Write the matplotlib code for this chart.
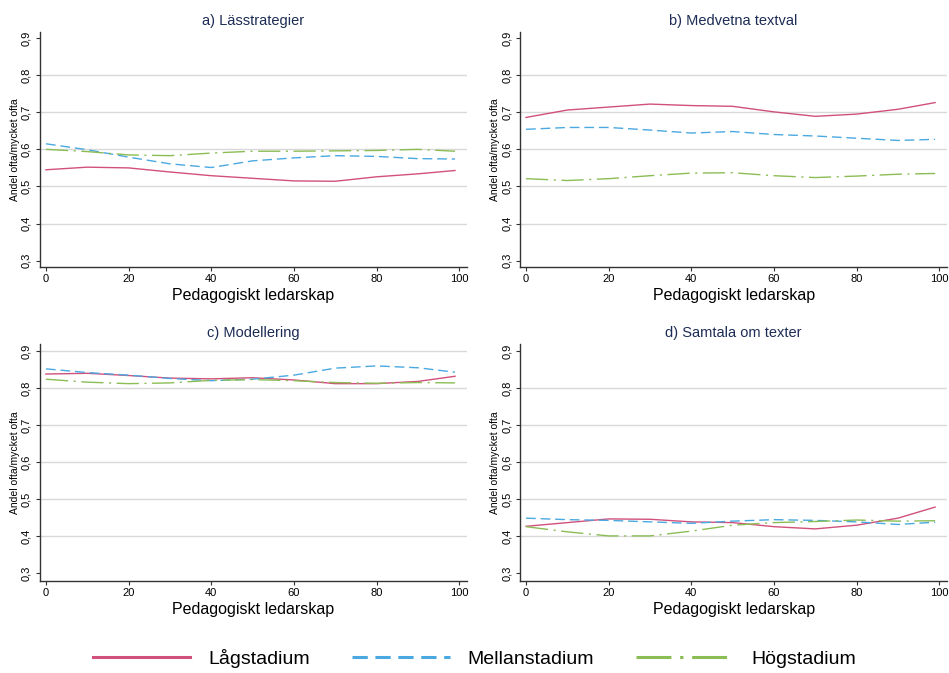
import numpy as np
import matplotlib.pyplot as plt
from matplotlib.lines import Line2D

plt.rcParams['font.family'] = ['Liberation Sans', 'DejaVu Sans']

# pedagogiskt ledarskap (x positions)
x = [0, 10, 20, 30, 40, 50, 60, 70, 80, 90, 99]

titles = ['a) Lässtrategier', 'b) Medvetna textval', 'c) Modellering', 'd) Samtala om texter']
series_names = ['Lågstadium', 'Mellanstadium', 'Högstadium']

# a) Lässtrategier
a_lag = [0.545, 0.552, 0.550, 0.539, 0.529, 0.522, 0.515, 0.514, 0.526, 0.534, 0.543]
a_mel = [0.615, 0.599, 0.579, 0.561, 0.551, 0.569, 0.577, 0.583, 0.581, 0.575, 0.574]
a_hog = [0.600, 0.594, 0.585, 0.583, 0.590, 0.595, 0.595, 0.596, 0.597, 0.600, 0.595]

# b) Medvetna textval
b_lag = [0.686, 0.706, 0.714, 0.722, 0.718, 0.716, 0.701, 0.689, 0.695, 0.708, 0.726]
b_mel = [0.654, 0.659, 0.659, 0.652, 0.644, 0.648, 0.640, 0.636, 0.630, 0.624, 0.627]
b_hog = [0.521, 0.516, 0.521, 0.529, 0.536, 0.537, 0.529, 0.524, 0.528, 0.533, 0.535]

# c) Modellering
c_lag = [0.838, 0.840, 0.834, 0.827, 0.825, 0.828, 0.822, 0.812, 0.812, 0.818, 0.832]
c_mel = [0.852, 0.842, 0.835, 0.826, 0.820, 0.824, 0.835, 0.854, 0.860, 0.855, 0.843]
c_hog = [0.824, 0.816, 0.812, 0.814, 0.821, 0.823, 0.820, 0.815, 0.813, 0.815, 0.814]

# d) Samtala om texter
d_lag = [0.426, 0.436, 0.446, 0.445, 0.438, 0.436, 0.425, 0.419, 0.429, 0.448, 0.478]
d_mel = [0.448, 0.444, 0.442, 0.438, 0.434, 0.440, 0.444, 0.442, 0.438, 0.431, 0.437]
d_hog = [0.425, 0.411, 0.400, 0.400, 0.413, 0.429, 0.436, 0.439, 0.443, 0.440, 0.441]

panels = [(a_lag, a_mel, a_hog), (b_lag, b_mel, b_hog),
          (c_lag, c_mel, c_hog), (d_lag, d_mel, d_hog)]

yticks = [0.3, 0.4, 0.5, 0.6, 0.7, 0.8, 0.9]
xticks = [0, 20, 40, 60, 80, 100]

colors = ['#d1507c', '#4ba9e1', '#8bbd55']
dashes = [None, (7, 3.5), (16, 4, 1.5, 4)]

fig = plt.figure(figsize=(9.49, 6.73), dpi=100)

# axes boxes in figure fractions: left, bottom, width, height
boxes = [
    (0.0421, 0.6033, 0.450, 0.349),
    (0.5480, 0.6033, 0.450, 0.349),
    (0.0421, 0.1367, 0.450, 0.352),
    (0.5480, 0.1367, 0.450, 0.352),
]
ylims = [(0.283, 0.916), (0.283, 0.916), (0.278, 0.919), (0.278, 0.919)]
grid_top = [0.8, 0.8, 0.9, 0.8]

for i, (box, data) in enumerate(zip(boxes, panels)):
    ax = fig.add_axes(box)
    for gy in np.arange(0.4, grid_top[i] + 0.01, 0.1):
        ax.axhline(gy, color='#d9d9d9', lw=1.0, zorder=0)
    for vals, col, d in zip(data, colors, dashes):
        ln, = ax.plot(x, vals, color=col, lw=1.0)
        if d is not None:
            ln.set_dashes(d)
    ax.set_xlim(-1.45, 101.9)
    ax.set_ylim(*ylims[i])
    ax.set_xticks(xticks)
    ax.set_yticks(yticks)
    ax.set_yticklabels([f'{v:.1f}'.replace('.', ',') for v in yticks],
                       rotation=90, va='center')
    ax.tick_params(axis='both', labelsize=8, length=3, width=0.8,
                   color='#333333', pad=2)
    ax.tick_params(axis='y', pad=3)
    for s in ['top', 'right']:
        ax.spines[s].set_visible(False)
    for s in ['left', 'bottom']:
        ax.spines[s].set_color('#333333')
        ax.spines[s].set_linewidth(1.0)
    ax.set_xlabel('Pedagogiskt ledarskap', fontsize=11.5, labelpad=3)
    ax.set_ylabel('Andel ofta/mycket ofta', fontsize=7.5, labelpad=1)
    ax.set_title(titles[i], fontsize=10.5, color='#1c2c54', pad=5)

handles = []
for col, d in zip(colors, dashes):
    h = Line2D([0], [0], color=col, lw=2.2)
    if d is not None:
        h.set_dashes(tuple(v / 1.4 for v in d))
    handles.append(h)

fig.legend(handles, series_names, loc='lower center', ncol=3,
           bbox_to_anchor=(0.5, -0.019), frameon=False, fontsize=14,
           handlelength=5.0, handletextpad=0.9, columnspacing=2.2)

fig.savefig('out.png', dpi=100)
